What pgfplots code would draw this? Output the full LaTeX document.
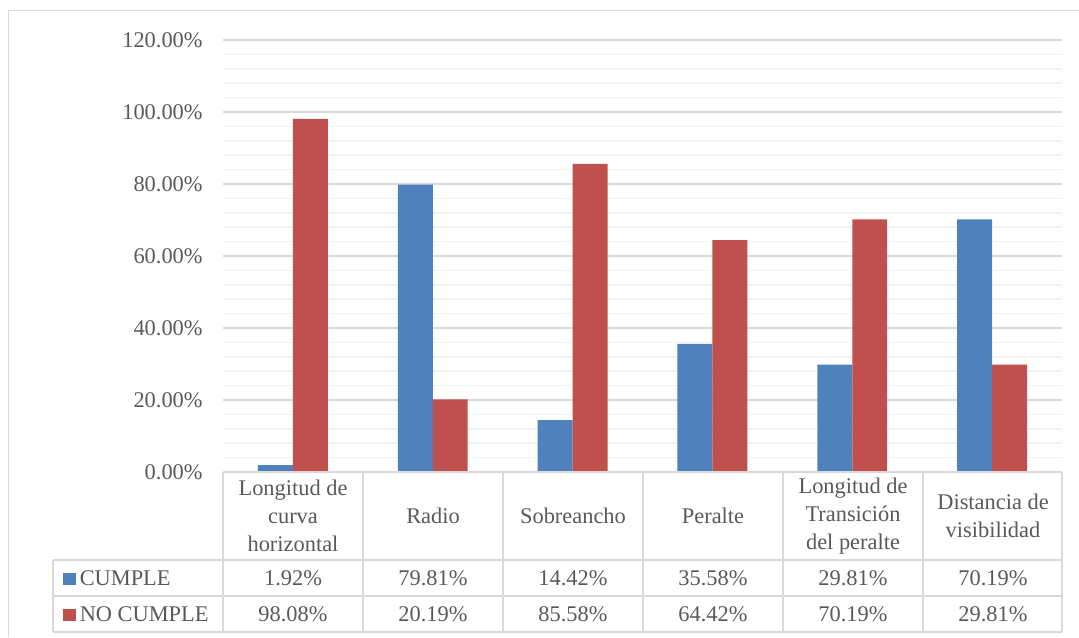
\documentclass[border=0pt]{standalone}
\usepackage{pgfplots}
\pgfplotsset{compat=1.18}
\usepackage{fontspec}
\setmainfont{Liberation Serif}

\definecolor{cumple}{HTML}{4F81BD}
\definecolor{nocumple}{HTML}{C0504D}
\definecolor{txt}{HTML}{595959}
\definecolor{gridmaj}{HTML}{D9D9D9}
\definecolor{gridmin}{HTML}{F2F2F2}

% one unit of the layout = 0.5pt
\newcommand{\U}[1]{#1*0.5pt}

\begin{document}
\begin{tikzpicture}[font=\fontsize{11.2}{14}\selectfont, text=txt]
\path[use as bounding box] (0,0) rectangle (539.5pt,-318.5pt);

% chart frame (left and top edges)
\draw[gridmaj, line width=0.75pt] (4.25pt,-318.5pt) -- (4.25pt,-5.25pt) -- (539.5pt,-5.25pt);

\begin{axis}[
  at={(111.5pt,-236pt)}, anchor=south west,
  scale only axis, width=419.5pt, height=216pt,
  xmin=-0.5, xmax=5.5, ymin=0, ymax=120,
  ytick={0,20,...,120}, minor y tick num=4,
  xtick=\empty,
  ymajorgrids, yminorgrids,
  major grid style={gridmaj, line width=0.75pt},
  minor grid style={gridmin, line width=0.75pt},
  axis line style={draw=none},
  major tick style={draw=none}, minor tick style={draw=none},
  /pgf/number format/assume math mode=true,
  yticklabel={\pgfmathprintnumber[fixed,fixed zerofill,precision=2]{\tick}\%},
  yticklabel style={anchor=east, inner sep=0pt, xshift=-10pt, text=txt},
  ybar=0pt, bar width=0.25,
  clip=false,
]
\addplot[fill=cumple, draw=none, bar shift=-0.125] coordinates
  {(0,1.92) (1,79.81) (2,14.42) (3,35.58) (4,29.81) (5,70.19)};
\addplot[fill=nocumple, draw=none, bar shift=0.125] coordinates
  {(0,98.08) (1,20.19) (2,85.58) (3,64.42) (4,70.19) (5,29.81)};
\end{axis}

% data table below the plot
\begin{scope}[x=0.5pt, y=-0.5pt, line width=0.75pt]
  \draw[gridmaj] (223,472) -- (1062,472);
  \draw[gridmaj] (53,560) -- (1062,560);
  \draw[gridmaj] (53,596) -- (1062,596);
  \draw[gridmaj] (53,632) -- (1062,632);
  \draw[gridmaj] (53,560) -- (53,632);
  \foreach \xx in {223,363,503,643,783,923,1062}
    \draw[gridmaj] (\xx,472) -- (\xx,632);

  \foreach \xx/\lab in {293/{Longitud de\\curva\\horizontal},
                        433/{Radio},
                        573/{Sobreancho},
                        713/{Peralte},
                        853/{Longitud de\\Transición\\del peralte},
                        993/{Distancia de\\visibilidad}}
    \node[align=center, inner sep=0pt] at (\xx,516) {\lab};

  \node[anchor=west, inner sep=0pt] at (62,578)
    {\textcolor{cumple}{\rule{6.5pt}{6pt}}\hspace{2pt}CUMPLE};
  \node[anchor=west, inner sep=0pt] at (62,614)
    {\textcolor{nocumple}{\rule{6.5pt}{6pt}}\hspace{2pt}NO CUMPLE};

  \foreach \xx/\a/\b in {293/1.92/98.08, 433/79.81/20.19, 573/14.42/85.58,
                         713/35.58/64.42, 853/29.81/70.19, 993/70.19/29.81} {
    \node[inner sep=0pt] at (\xx,578) {\a\%};
    \node[inner sep=0pt] at (\xx,614) {\b\%};
  }
\end{scope}
\end{tikzpicture}
\end{document}
